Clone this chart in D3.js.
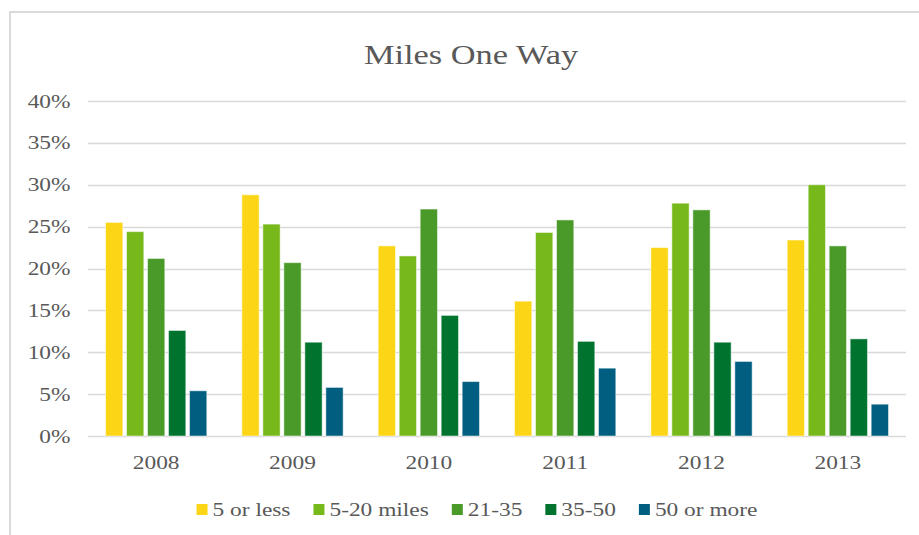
<!DOCTYPE html>
<html>
<head>
<meta charset="utf-8">
<script src="https://cdn.jsdelivr.net/npm/d3@7"></script>
<style>
	body { margin: 0; background: #fff; }
	svg text { font-family: "Liberation Serif", serif; fill: #595959; }
</style>
</head>
<body>
<div id="chart"></div>
<script>
// Data (percent)
const years = ["2008", "2009", "2010", "2011", "2012", "2013"];
const seriesNames = ["5 or less", "5-20 miles", "21-35", "35-50", "50 or more"];
const fiveOrLess   = [25.5, 28.8, 22.7, 16.1, 22.5, 23.4];
const fiveTo20     = [24.4, 25.3, 21.5, 24.3, 27.8, 30.0];
const from21To35   = [21.2, 20.7, 27.1, 25.8, 27.0, 22.7];
const from35To50   = [12.6, 11.2, 14.4, 11.3, 11.2, 11.6];
const fiftyOrMore  = [5.4, 5.8, 6.5, 8.1, 8.9, 3.8];
const yTicks = [0, 5, 10, 15, 20, 25, 30, 35, 40];

const seriesValues = [fiveOrLess, fiveTo20, from21To35, from35To50, fiftyOrMore];
const colors = ["#fcd616", "#77b81a", "#4a9a2a", "#00742f", "#005e80"];

const width = 919, height = 535;
const margin = { top: 101, right: 13, bottom: 99, left: 88 };
const sx = 1.2, sxTitle = 1.25; // reference text is a bit wide

const svg = d3.select("#chart").append("svg")
	.attr("width", width).attr("height", height);

function placeText(sel, x, y, s) {
	return sel.attr("transform", `translate(${x},${y}) scale(${s},1)`);
}

// frame
svg.append("rect")
	.attr("x", 10).attr("y", 12)
	.attr("width", 960).attr("height", 560)
	.attr("fill", "none").attr("stroke", "#d9d9d9").attr("stroke-width", 2);

// title
placeText(svg.append("text"), 471, 64, sxTitle)
	.attr("text-anchor", "middle")
	.style("font-size", "27.5px")
	.text("Miles One Way");

// scales
const x0 = d3.scaleBand(years, [margin.left, width - margin.right])
	.paddingInner(0.23).paddingOuter(0.115);
const x1 = d3.scaleBand(d3.range(seriesNames.length), [0, x0.bandwidth()])
	.paddingInner(0.176).paddingOuter(0.088);
const y = d3.scaleLinear([0, 40], [height - margin.bottom, margin.top]);

// gridlines
svg.append("g").selectAll("line")
	.data(yTicks)
	.join("line")
	.attr("x1", margin.left).attr("x2", width - margin.right)
	.attr("y1", (d) => Math.round(y(d)) + 0.5).attr("y2", (d) => Math.round(y(d)) + 0.5)
	.attr("stroke", "#d9d9d9").attr("stroke-width", 1.3);

// y tick labels
svg.append("g").selectAll("text")
	.data(yTicks)
	.join("text")
	.attr("text-anchor", "end")
	.style("font-size", "19.5px")
	.each(function (d) { placeText(d3.select(this), 70.5, y(d) + 6.5, sx); })
	.text((d) => d + "%");

// bars
const groups = svg.append("g").selectAll("g")
	.data(years)
	.join("g")
	.attr("transform", (d) => `translate(${x0(d)},0)`);

groups.selectAll("rect")
	.data((d, i) => seriesValues.map((vals, s) => ({ s: s, v: vals[i] })))
	.join("rect")
	.attr("x", (d) => x1(d.s))
	.attr("width", x1.bandwidth())
	.attr("y", (d) => y(d.v))
	.attr("height", (d) => y(0) - y(d.v))
	.attr("fill", (d) => colors[d.s])
	.attr("stroke", "#ffffff").attr("stroke-opacity", 0.5).attr("stroke-width", 1);

// x tick labels
svg.append("g").selectAll("text")
	.data(years)
	.join("text")
	.attr("text-anchor", "middle")
	.style("font-size", "19.5px")
	.each(function (d) { placeText(d3.select(this), x0(d) + x0.bandwidth() / 2, 469, sx); })
	.text((d) => d);

// legend
const legend = svg.append("g");
let lx = 0;
seriesNames.forEach((name, i) => {
	const item = legend.append("g").attr("transform", `translate(${lx},0)`);
	item.append("rect")
		.attr("x", 0).attr("y", 504)
		.attr("width", 11).attr("height", 11)
		.attr("fill", colors[i]);
	const t = placeText(item.append("text"), 16, 516, sx)
		.style("font-size", "19.5px")
		.text(name);
	lx += 16 + t.node().getComputedTextLength() * sx + 23;
});
const legendWidth = lx - 23;
legend.attr("transform", `translate(${477 - legendWidth / 2},0)`);
</script>
</body>
</html>
